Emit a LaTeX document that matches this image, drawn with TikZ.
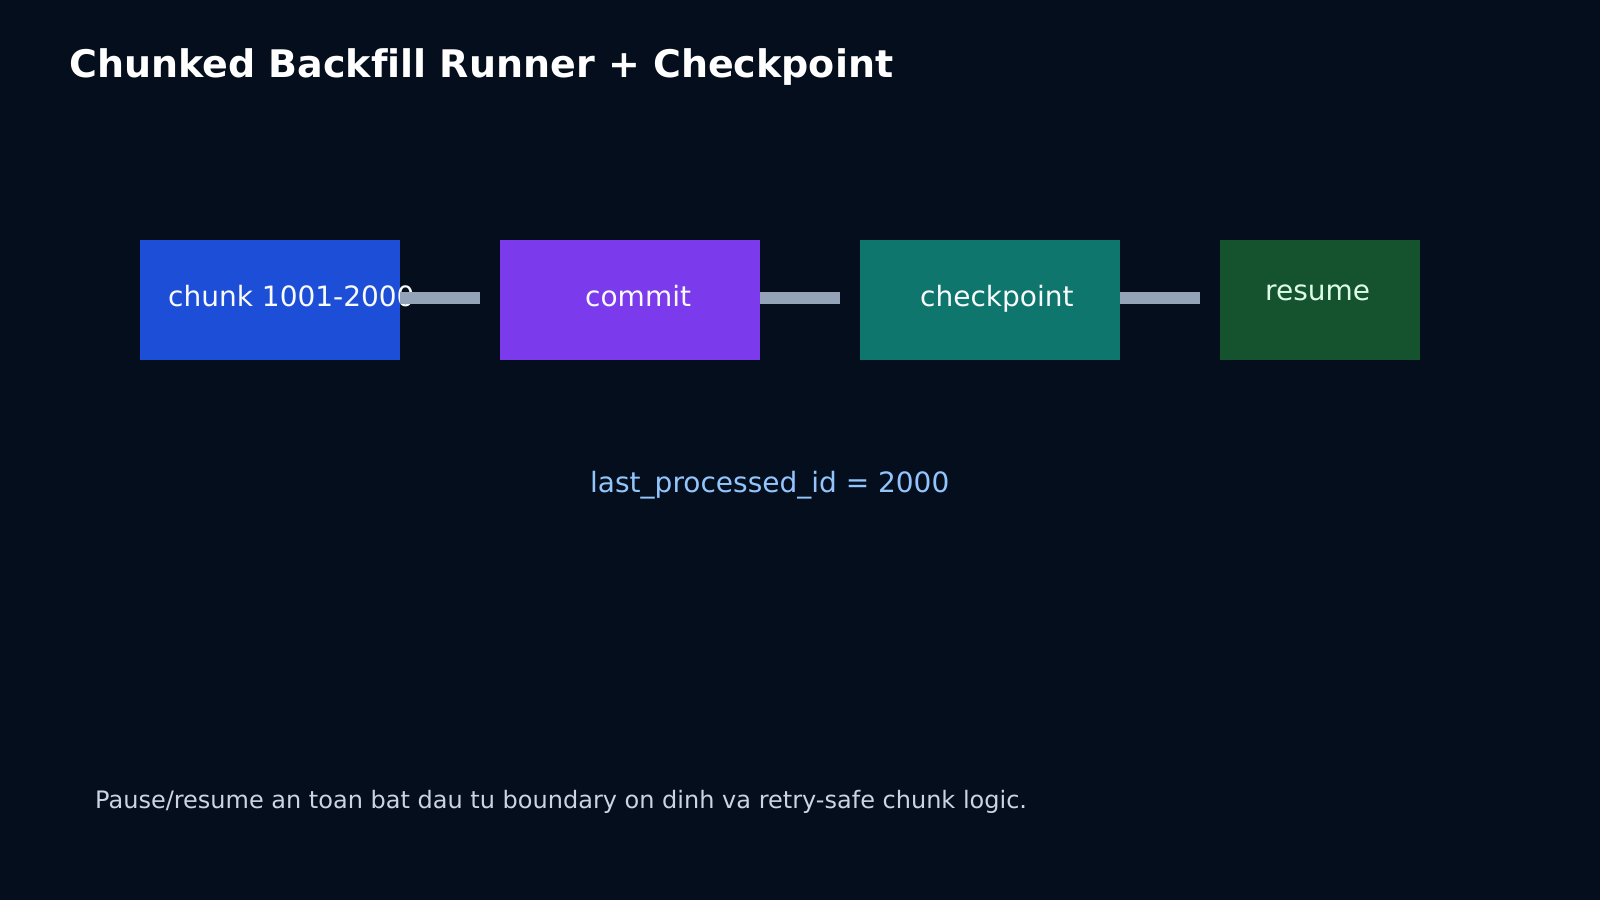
\documentclass[tikz,border=0pt]{standalone}
\usepackage{fontspec}
\setmainfont{DejaVu Sans}[Ligatures=NoCommon]
\definecolor{bg}{HTML}{050E1D}
\definecolor{cblue}{HTML}{1D4ED8}
\definecolor{cviolet}{HTML}{7C3AED}
\definecolor{cteal}{HTML}{0F766E}
\definecolor{cgreen}{HTML}{14532D}
\definecolor{conn}{HTML}{94A3B8}
\definecolor{txt}{HTML}{F8FAFC}
\definecolor{rtxt}{HTML}{DCFCE7}
\definecolor{note}{HTML}{93C5FD}
\definecolor{foot}{HTML}{CBD5E1}
\begin{document}
\begin{tikzpicture}[x=1pt,y=-1pt,
  stepbox/.style={inner sep=0pt,outer sep=0pt,minimum height=120pt,anchor=north west},
  label/.style={inner sep=0pt,anchor=base west,font=\fontsize{28}{32}\selectfont},
  link/.style={conn,line width=12pt}]
\fill[bg] (0,0) rectangle (1600,900);
\useasboundingbox (0,0) rectangle (1600,900);
\node[inner sep=0pt,anchor=base west,text=white,font=\fontsize{38}{44}\selectfont\bfseries] (title) at (69,77) {Chunked Backfill Runner + Checkpoint};
\node[stepbox,fill=cblue,minimum width=260pt] (b1) at (140,240) {};
\node[stepbox,fill=cviolet,minimum width=260pt] (b2) at (500,240) {};
\node[stepbox,fill=cteal,minimum width=260pt] (b3) at (860,240) {};
\node[stepbox,fill=cgreen,minimum width=200pt] (b4) at (1220,240) {};
\node[label,text=txt] (t1) at (168,306) {chunk 1001-2000};
\node[label,text=txt] (t2) at (585,306) {commit};
\node[label,text=txt] (t3) at (920,306) {checkpoint};
\node[label,text=rtxt] (t4) at (1265,300) {resume};
\coordinate (e1) at (480,297.5);
\coordinate (e2) at (840,297.5);
\coordinate (e3) at (1200,297.5);
\draw[link] (b1.east |- e1) -- (e1);
\draw[link] (b2.east |- e2) -- (e2);
\draw[link] (b3.east |- e3) -- (e3);
\node[label,text=note] (n) at (590,492) {last\_processed\_id = 2000};
\node[inner sep=0pt,anchor=base west,text=foot,font=\fontsize{24}{28}\selectfont] (f) at (95,808) {Pause/resume an toan bat dau tu boundary on dinh va retry-safe chunk logic.};
\end{tikzpicture}
\end{document}
